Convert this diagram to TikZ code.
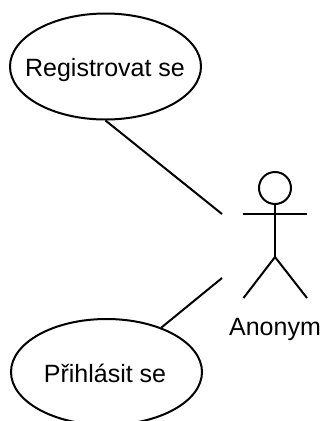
\documentclass[tikz,border=0pt]{standalone}
\usepackage{fontspec}
\setmainfont{Liberation Sans}
\usetikzlibrary{shapes.geometric}
\tikzset{
  x=1pt,y=-1pt,
  line/.style={line width=2pt,draw=black},
  usecase/.style={ellipse,line,fill=white,minimum width=191pt,minimum height=106pt,inner sep=0pt},
  head/.style={circle,line,minimum size=32pt,inner sep=0pt},
  lbl/.style={inner sep=0pt,font=\fontsize{25}{30}\selectfont,text=black,anchor=base}
}
\begin{document}
\begin{tikzpicture}
\useasboundingbox (0,0) rectangle (324,421);
\clip (0,0) rectangle (324,421);
\node[usecase] (reg) at (105.5,66.5) {};
\node[lbl] (regt) at (105,76) {Registrovat se};
\node[usecase] (prih) at (106.5,372) {};
\node[lbl] (priht) at (105,382) {Přihlásit se};
\node[head] (hd) at (275,188) {};
\coordinate (hip) at (275,257);
\coordinate (al) at (243,214);
\coordinate (ar) at (307,214);
\coordinate (ll) at (243.5,298);
\coordinate (lr) at (307,298);
\node[lbl] (anon) at (275,335) {Anonym};
\coordinate (e1) at (222,214);
\coordinate (e2) at (222,278);
\draw[line] (hd.south) -- (hip);
\draw[line] (al) -- (ar);
\draw[line] (ll) -- (hip) -- (lr);
\draw[line] (reg.south) -- (e1);
\draw[line] (prih.39.4) -- (e2);
\end{tikzpicture}
\end{document}
